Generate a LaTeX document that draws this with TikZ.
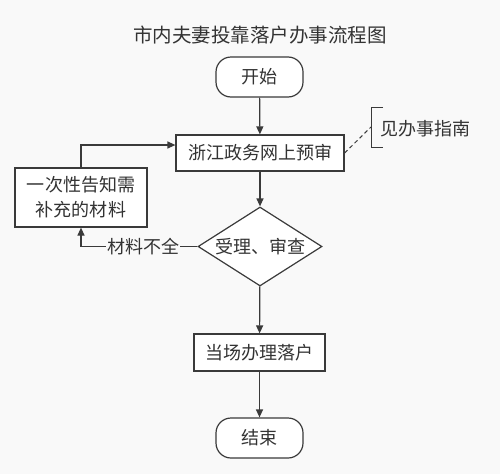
\documentclass[tikz,border=0pt]{standalone}
\usepackage{fontspec}
\setmainfont{Noto Sans CJK SC}
\usetikzlibrary{shapes.geometric,arrows.meta}
\definecolor{bg}{HTML}{F9F9F9}
\definecolor{ln}{HTML}{3A3A3A}
\definecolor{tx}{HTML}{333333}
\begin{document}
\begin{tikzpicture}[x=1pt,y=-1pt,
  font=\fontsize{18pt}{21pt}\selectfont, text=tx,
  conn/.style={draw=ln, line width=1.2pt, -{Triangle[length=8pt,width=7pt]}},
  term/.style={draw=ln, line width=1.2pt, fill=white, rounded corners=15pt, minimum width=87pt, minimum height=40pt, inner sep=0pt},
  proc/.style={draw=ln, line width=1.2pt, fill=white, minimum height=36pt, inner sep=0pt},
  dec/.style={draw=ln, line width=1.2pt, fill=white, diamond, aspect=1.57, minimum width=124pt, minimum height=79pt, inner sep=0pt}]
\fill[bg] (0,0) rectangle (500,474);
\useasboundingbox (0,0) rectangle (500,474);
\node[font=\fontsize{19.5pt}{22pt}\selectfont] (title) at (260,35) {市内夫妻投靠落户办事流程图};
\node[term] (start) at (259.5,77) {开始};
\node[proc, minimum width=168pt] (pre) at (260,153) {浙江政务网上预审};
\node[proc, minimum width=132pt, minimum height=59pt, align=center, font=\fontsize{18pt}{25pt}\selectfont] (supp) at (81,197.5) {一次性告知需\\补充的材料};
\node[dec] (chk) at (260,246.5) {受理、审查};
\node[proc, minimum width=131pt, minimum height=37pt] (done) at (259.5,352.5) {当场办理落户};
\node[term] (end) at (259.5,438) {结束};
\node[anchor=west, inner sep=0pt] (guide) at (380,129) {见办事指南};
\coordinate (bt) at (383,107);
\coordinate (bb) at (383,147);
\coordinate (bm) at (371,127);
\draw[ln, line width=1pt] (bt) -- (371,107) -- (371,147) -- (bb);
\draw[ln, line width=1pt, dash pattern=on 4pt off 3pt] (pre.east) -- (bm);
\draw[conn] (start) -- (pre);
\draw[conn] (pre) -- (chk);
\draw[conn] (chk) -- (done);
\draw[conn] (done) -- (end);
\node[fill=bg, inner sep=1pt] (lack) at (143,246.5) {材料不全};
\draw[conn] (chk.west) -- (lack.east) (lack.west) -| (supp.south);
\draw[conn] (supp.north) |- (pre.west |- 0,145);
\end{tikzpicture}
\end{document}
